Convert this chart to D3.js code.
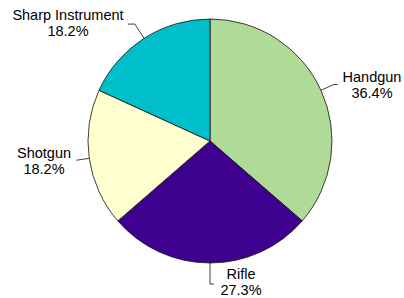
<!DOCTYPE html>
<html>
<head>
<meta charset="utf-8">
<script src="https://cdn.jsdelivr.net/npm/d3@7"></script>
<style>
  body { margin: 0; background: #fff; }
  text { font-family: "Liberation Sans", Arial, sans-serif; font-size: 14.5px; fill: #000; }
</style>
</head>
<body>
<script>
// data
var categories = ["Handgun", "Rifle", "Shotgun", "Sharp Instrument"];
var counts = [4, 3, 2, 2];
var pctLabels = ["36.4%", "27.3%", "18.2%", "18.2%"];
var colors = ["#b0da97", "#3e008f", "#ffffcf", "#00bfca"];

// label layout: leader extension past the rim, horizontal tail, text centre / first baseline
var leaderExt = [14, 21, 13, 17];
var leaderTail = [4, 4, 0, -7];
var labelX = [372, 241, 44, 68];
var labelY = [82, 278.5, 158, 20];

var width = 404, height = 298;
var cx = 210, cy = 141, radius = 122;

var svg = d3.select("body").append("svg")
    .attr("width", width)
    .attr("height", height);

var g = svg.append("g")
    .attr("transform", "translate(" + cx + "," + cy + ")");

var pie = d3.pie().sort(null).value(function (d) { return d; });
var arcs = pie(counts);

var arc = d3.arc().innerRadius(0).outerRadius(radius);

g.selectAll("path.slice")
    .data(arcs)
    .enter().append("path")
    .attr("class", "slice")
    .attr("d", arc)
    .style("fill", function (d, i) { return colors[i]; })
    .style("stroke", "#111")
    .style("stroke-width", 0.8);

// leader lines
g.selectAll("polyline")
    .data(arcs)
    .enter().append("polyline")
    .attr("points", function (d, i) {
        var a = (d.startAngle + d.endAngle) / 2;
        var p0 = [radius * Math.sin(a), -radius * Math.cos(a)];
        var r1 = radius + leaderExt[i];
        var p1 = [r1 * Math.sin(a), -r1 * Math.cos(a)];
        var p2 = [p1[0] + leaderTail[i], p1[1]];
        return [p0, p1, p2].map(function (p) { return p.join(","); }).join(" ");
    })
    .style("fill", "none")
    .style("stroke", "#111")
    .style("stroke-width", 0.8);

// labels
var labels = svg.selectAll("text.lbl")
    .data(arcs)
    .enter().append("text")
    .attr("class", "lbl")
    .attr("text-anchor", "middle")
    .attr("x", function (d, i) { return labelX[i]; })
    .attr("y", function (d, i) { return labelY[i]; });

labels.append("tspan")
    .attr("x", function (d, i) { return labelX[i]; })
    .text(function (d, i) { return categories[i]; });

labels.append("tspan")
    .attr("x", function (d, i) { return labelX[i]; })
    .attr("dy", 16)
    .text(function (d, i) { return pctLabels[i]; });
</script>
</body>
</html>
